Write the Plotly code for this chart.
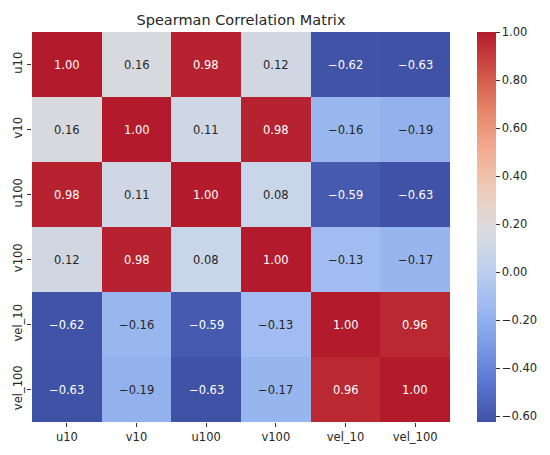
import plotly.graph_objects as go

labels = ["u10", "v10", "u100", "v100", "vel_10", "vel_100"]

corr = [
    [1.00, 0.16, 0.98, 0.12, -0.62, -0.63],
    [0.16, 1.00, 0.11, 0.98, -0.16, -0.19],
    [0.98, 0.11, 1.00, 0.08, -0.59, -0.63],
    [0.12, 0.98, 0.08, 1.00, -0.13, -0.17],
    [-0.62, -0.16, -0.59, -0.13, 1.00, 0.96],
    [-0.63, -0.19, -0.63, -0.17, 0.96, 1.00],
]

cbar_ticks = [-0.6, -0.4, -0.2, 0.0, 0.2, 0.4, 0.6, 0.8, 1.0]

# "coolwarm"-like scale, slightly muted to match the reference
coolwarm = ["#4052a5", "#5a75d2", "#7c9de6", "#9ebbf0", "#c0d2ee", "#dcdbdc",
            "#efcab8", "#f2ab90", "#e6846a", "#cf5146", "#b31b2c"]
colorscale = [[i / 10, c] for i, c in enumerate(coolwarm)]

# page has an 8px body margin, so the figure is a bit smaller than the window
W, H = 542, 447


def fmt(v):
    return f"{v:.2f}".replace("-", "\u2212")


fig = go.Figure()
fig.add_trace(go.Heatmap(
    z=corr,
    x=labels,
    y=labels,
    colorscale=colorscale,
    zmin=-0.625,
    zmax=1.0,
    hoverinfo="skip",
    colorbar=dict(
        xref="container", x=469 / W, xanchor="left", xpad=0,
        y=0.5, yanchor="middle", ypad=0,
        len=1.0, thickness=19,
        outlinewidth=0,
        tickvals=cbar_ticks,
        ticktext=[fmt(t) for t in cbar_ticks],
        ticks="outside", ticklen=4, tickcolor="#333",
        tickfont=dict(size=11.5, color="#262626"),
    ),
))

# cell annotations: white on dark cells, dark grey on light ones
annotations = []
for i, row_label in enumerate(labels):
    for j, col_label in enumerate(labels):
        v = corr[i][j]
        dark = v > 0.55 or v < -0.45
        annotations.append(dict(
            x=col_label, y=row_label, text=fmt(v), showarrow=False,
            font=dict(size=11.5, color="#ffffff" if dark else "#262626"),
        ))

fig.update_layout(
    width=W, height=H,
    margin=dict(l=24, r=100, t=24, b=33, autoexpand=False),
    paper_bgcolor="white",
    plot_bgcolor="white",
    font=dict(family="DejaVu Sans", color="#262626"),
    title=dict(text="Spearman Correlation Matrix", x=233 / W, xanchor="center",
               y=1 - 12 / H, yanchor="middle", font=dict(size=14.5, color="#262626")),
    annotations=annotations,
    xaxis=dict(showgrid=False, zeroline=False, ticks="outside", ticklen=4, tickcolor="#333",
               tickfont=dict(size=11.5)),
    yaxis=dict(showgrid=False, zeroline=False, autorange="reversed", ticks="outside",
               ticklen=4, tickcolor="#333", tickangle=-90, tickfont=dict(size=11.5)),
)

fig.write_html("out.html")
